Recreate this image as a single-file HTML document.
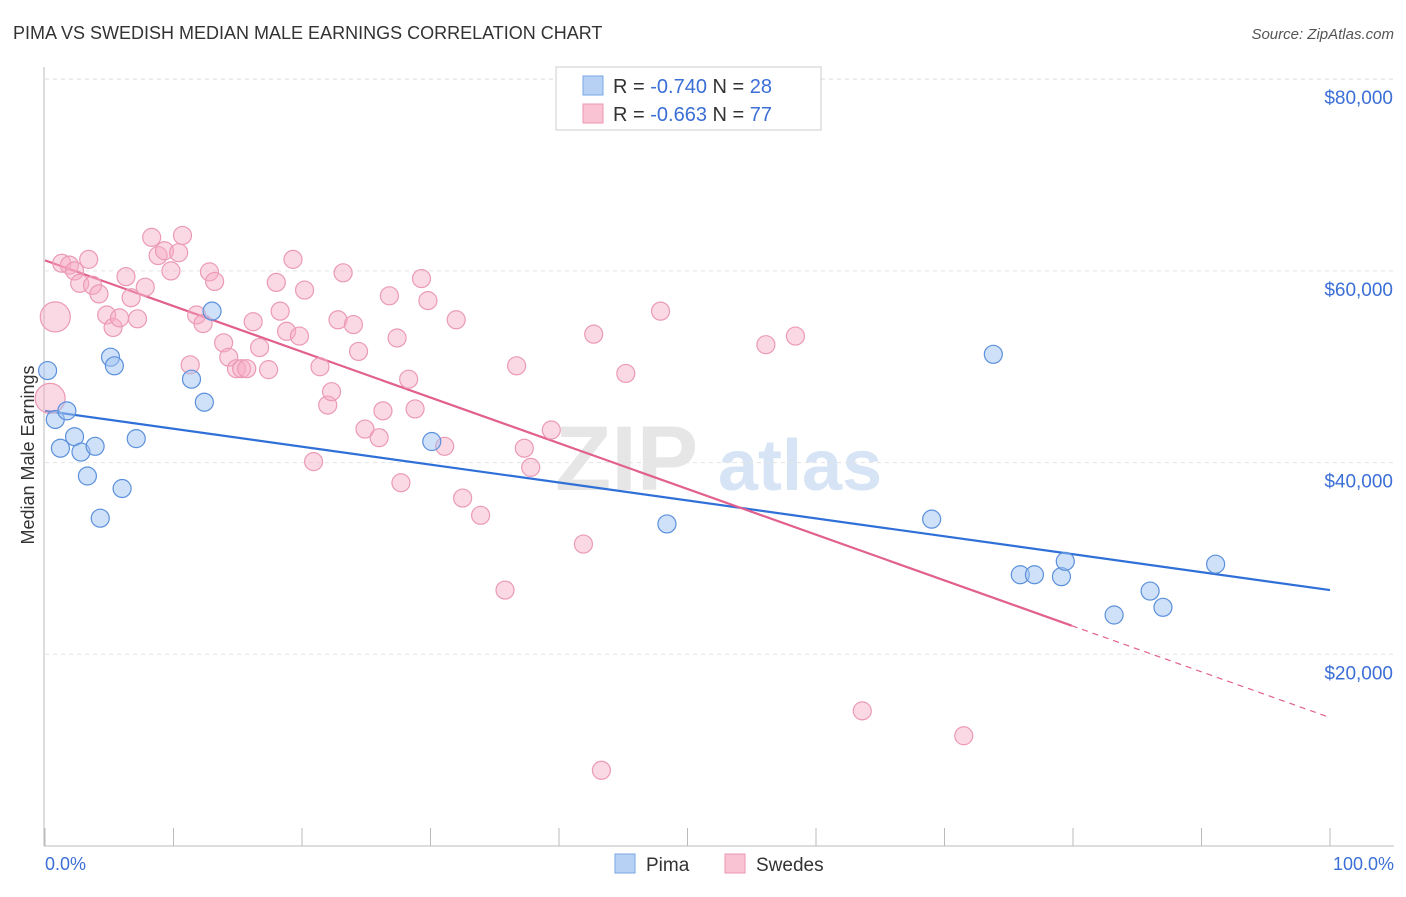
<!DOCTYPE html>
<html><head><meta charset="utf-8"><style>
body{margin:0;background:#fff;font-family:"Liberation Sans",sans-serif;}
svg text{font-family:"Liberation Sans",sans-serif;}
</style></head><body>
<svg id="chart" width="1406" height="892" viewBox="0 0 1406 892" xmlns="http://www.w3.org/2000/svg">
<text x="13" y="39" font-size="18" fill="#333">PIMA VS SWEDISH MEDIAN MALE EARNINGS CORRELATION CHART</text>
<text x="1394" y="39" font-size="15" fill="#555" text-anchor="end" font-style="italic">Source: ZipAtlas.com</text>
<g><text x="555" y="490" font-size="92" fill="#e6e6e6" font-family="Liberation Serif" font-weight="bold">ZIP</text><text x="718" y="490" font-size="72" fill="#d6e4f5" font-weight="bold">atlas</text></g>
<g id="grid"></g><g id="axes"></g><g id="trends"></g><g id="points"></g>
<text transform="translate(34,455) rotate(-90)" font-size="18" fill="#333" text-anchor="middle">Median Male Earnings</text>
<text x="45" y="870" font-size="18" fill="#3b6fd6">0.0%</text>
<text x="1394" y="870" font-size="18" fill="#3b6fd6" text-anchor="end">100.0%</text>
<g>
<rect x="556" y="67" width="265" height="63" fill="#fff" stroke="#ccc"/>
<rect x="583" y="76" width="20" height="19" fill="#b7d1f5" stroke="#7aa6e3"/>
<rect x="583" y="104" width="20" height="19" fill="#f9c3d3" stroke="#ec97b2"/>
<text x="613" y="93" font-size="20" fill="#333">R = <tspan fill="#3b6fd6">-0.740</tspan>   N = <tspan fill="#3b6fd6">28</tspan></text>
<text x="613" y="121" font-size="20" fill="#333">R = <tspan fill="#3b6fd6">-0.663</tspan>   N = <tspan fill="#3b6fd6">77</tspan></text>
</g>
<g>
<rect x="615" y="854" width="20" height="19" fill="#b7d1f5" stroke="#7aa6e3"/>
<text x="646" y="871" font-size="19" fill="#333">Pima</text>
<rect x="725" y="854" width="20" height="19" fill="#f9c3d3" stroke="#ec97b2"/>
<text x="756" y="871" font-size="19" fill="#333">Swedes</text>
</g>
</svg>
<script>
const yTicks=[20000,40000,60000,80000];
const yTickLabels=["$20,000","$40,000","$60,000","$80,000"];
const xTicks=[0,10,20,30,40,50,60,70,80,90,100];
const pimaX=[0.2,0.8,1.7,1.2,2.3,2.8,3.9,3.3,4.3,5.1,5.4,6.0,7.1,11.4,12.4,13.0,30.1,48.4,69.0,73.8,75.9,77.0,79.1,79.4,83.2,86.0,87.0,91.1];
const pimaY=[49.6,44.5,45.4,41.5,42.7,41.1,41.7,38.6,34.2,51.0,50.1,37.3,42.5,48.7,46.3,55.8,42.2,33.6,34.1,51.3,28.3,28.3,28.1,29.7,24.1,26.6,24.9,29.4];
const swX=[0.8,0.4,1.3,1.9,2.3,3.4,2.7,3.7,4.2,4.8,5.3,5.8,6.3,6.7,7.2,7.8,8.3,8.8,9.3,9.8,10.4,10.7,11.3,11.8,12.3,12.8,13.2,13.9,14.3,14.9,15.3,15.7,16.2,16.7,17.4,18.0,18.3,18.8,19.3,19.8,20.2,20.9,21.4,22.0,22.3,22.8,23.2,24.0,24.4,24.9,26.0,26.3,26.8,27.4,27.7,28.3,28.8,29.3,29.8,31.1,32.0,32.5,33.9,35.8,36.7,37.3,37.8,39.4,41.9,42.7,43.3,45.2,47.9,56.1,58.4,63.6,71.5];
const swY=[55.2,46.7,60.8,60.6,60.0,61.2,58.7,58.5,57.6,55.4,54.1,55.1,59.4,57.2,55.0,58.3,63.5,61.6,62.1,60.0,61.9,63.7,50.2,55.4,54.5,59.9,58.9,52.5,51.0,49.8,49.8,49.8,54.7,52.0,49.7,58.8,55.8,53.7,61.2,53.2,58.0,40.1,50.0,46.0,47.4,54.9,59.8,54.4,51.6,43.5,42.6,45.4,57.4,53.0,37.9,48.7,45.6,59.2,56.9,41.7,54.9,36.3,34.5,26.7,50.1,41.5,39.5,43.4,31.5,53.4,7.9,49.3,55.8,52.3,53.2,14.1,11.5];
const swBig=[0,1];
const pimaTrend=[45.4,26.7];
const swTrend=[61.1,13.4];
const swSolidEnd=79.9;
const NS='http://www.w3.org/2000/svg';
const xs=v=>45+v*12.85, ys=v=>846-v*9.585;
function mk(t,a,p){const e=document.createElementNS(NS,t);for(const k in a)e.setAttribute(k,a[k]);p.appendChild(e);return e;}
const grid=document.getElementById('grid'),axes=document.getElementById('axes'),tr=document.getElementById('trends'),pts=document.getElementById('points');
yTicks.forEach((t,i)=>{const y=ys(t/1000);
const l=mk('line',{x1:45,x2:1394,y1:y,y2:y,stroke:'#e3e3e3','stroke-dasharray':'4 4'},grid);

const tx=mk('text',{x:1393,y:y+25,'font-size':19,fill:'#3b6fd6','text-anchor':'end'},grid);tx.textContent=yTickLabels[i];
});
const gl=mk('line',{x1:45,x2:1394,y1:79,y2:79,stroke:'#e3e3e3','stroke-dasharray':'4 4'},grid);
mk('line',{x1:44,x2:44,y1:67,y2:846,stroke:'#bbb'},axes);
const xa=mk('line',{x1:44,x2:1394,y1:846,y2:846,stroke:'#bbb'},axes);

xTicks.forEach(t=>{const tk=mk('line',{x1:xs(t),x2:xs(t),y1:828,y2:846,stroke:'#bbb'},axes);
});
let b=mk('line',{x1:xs(0),y1:ys(pimaTrend[0]),x2:xs(100),y2:ys(pimaTrend[1]),stroke:'#2f6fd8','stroke-width':2.2},tr);

const sv=x=>swTrend[0]+(swTrend[1]-swTrend[0])*x/100;
let p=mk('line',{x1:xs(0),y1:ys(sv(0)),x2:xs(swSolidEnd),y2:ys(sv(swSolidEnd)),stroke:'#e2608e','stroke-width':2.2},tr);

let pd=mk('line',{x1:xs(swSolidEnd),y1:ys(sv(swSolidEnd)),x2:xs(100),y2:ys(sv(100)),stroke:'#e2608e','stroke-width':1.2,'stroke-dasharray':'6 5'},tr);

swX.forEach((x,i)=>{const c=mk('circle',{cx:xs(x),cy:ys(swY[i]),r:swBig.includes(i)?15:9,fill:'rgba(247,170,195,0.45)',stroke:'#eb9ab4','stroke-width':1.2},pts);
});
pimaX.forEach((x,i)=>{const c=mk('circle',{cx:xs(x),cy:ys(pimaY[i]),r:9,fill:'rgba(160,195,242,0.5)',stroke:'#5b90dc','stroke-width':1.2},pts);
});
</script>
</body></html>
